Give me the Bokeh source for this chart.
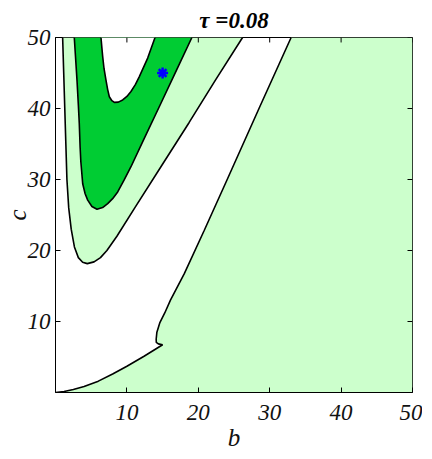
from bokeh.plotting import figure
from bokeh.models import FixedTicker, Range1d
from bokeh.embed import file_html
from bokeh.resources import INLINE

# ---- data ----
# outer light-green U boundary (left arm top -> bottom -> right arm top)
outer_b = [1.0, 1.15, 1.3, 1.45, 1.6, 1.85, 2.2, 2.65, 3.2, 3.8, 4.45, 5.4, 6.3, 7.2, 8.6, 11.1, 14.9, 18.7, 22.4, 26.2]
outer_c = [50, 45, 40, 35, 30, 26, 23, 20.5, 19.0, 18.35, 18.15, 18.4, 19.0, 20.0, 22.0, 26.0, 32.0, 38.0, 44.0, 50]

# dark-green U boundary
dark_b = [2.63, 2.82, 3.01, 3.2, 3.33, 3.45, 3.55, 3.81, 4.15, 4.51, 5.1, 5.81, 6.6, 7.31, 8.0, 8.71, 9.6, 10.57, 12.3, 14.75, 16.95, 19.1]
dark_c = [50, 47, 44, 40.5, 37.9, 34.5, 32.5, 29.4, 28.0, 27.1, 26.2, 25.8, 26.05, 26.6, 27.3, 28.25, 29.9, 31.8, 35.5, 40.7, 45.4, 50]

# inner white U boundary
inner_b = [6.37, 6.5, 6.61, 6.8, 7.07, 7.3, 7.54, 7.9, 8.24, 8.8, 9.41, 10.0, 10.57, 11.2, 11.74, 12.91, 13.94]
inner_c = [50, 48.5, 47.3, 45.6, 44.0, 42.7, 41.65, 41.1, 40.86, 40.9, 41.2, 41.7, 42.4, 43.4, 44.5, 47.1, 50]

# right light-green region boundary (top -> kink -> tip -> origin)
right_b = [33.0, 28.5, 24.0, 20.84, 18.04, 16.1, 15.3, 14.6, 14.2, 14.1, 14.12, 14.4, 15.0,
           12.4, 10.0, 8.0, 6.0, 4.0, 2.5, 1.2, 0.0]
right_c = [50, 40, 29.9, 22.85, 16.74, 13.0, 11.2, 9.8, 8.5, 7.5, 7.05, 6.85, 6.72,
           5.1, 3.7, 2.6, 1.6, 0.85, 0.42, 0.13, 0.0]

# marked point
star_b = [15.0]
star_c = [45.0]

x_ticks = [10, 20, 30, 40, 50]
y_ticks = [10, 20, 30, 40, 50]
b_min, b_max = 0, 50
c_min, c_max = 0, 50

LIGHT = "#CCFFCC"
DARK = "#00CC33"
FONT = "Liberation Serif"
TICK_LEN = 0.7  # mirrored tick length, in data units

p = figure(frame_width=357, frame_height=355,
           x_range=Range1d(b_min, b_max), y_range=Range1d(c_min, c_max),
           output_backend="svg", toolbar_location=None,
           min_border_left=46, min_border_right=10, min_border_top=30, min_border_bottom=10,
           title="τ =0.08")
p.xgrid.visible = False
p.ygrid.visible = False
p.background_fill_color = "white"
p.border_fill_color = "white"
p.outline_line_color = "black"
p.outline_line_width = 1

p.title.align = "center"
p.title.text_font = FONT
p.title.text_font_style = "bold italic"
p.title.text_font_size = "23px"
p.title.text_color = "black"
p.title.standoff = 10

# right region polygon
rb = right_b + [b_max, b_max]
rc = right_c + [c_min, c_max]
p.patch(rb, rc, fill_color=LIGHT, line_color=None)
p.patch(outer_b, outer_c, fill_color=LIGHT, line_color=None)
p.patch(dark_b, dark_c, fill_color=DARK, line_color=None)
p.patch(inner_b, inner_c, fill_color="white", line_color=None)

for bb, cc in [(outer_b, outer_c), (dark_b, dark_c), (inner_b, inner_c), (right_b, right_c)]:
    p.line(bb, cc, line_color="black", line_width=1.6)

# mirrored ticks on the top and right edges
p.segment(x0=x_ticks, y0=[c_max] * len(x_ticks), x1=x_ticks, y1=[c_max - TICK_LEN] * len(x_ticks),
          line_color="black", line_width=1)
p.segment(x0=[b_max] * len(y_ticks), y0=y_ticks, x1=[b_max - TICK_LEN] * len(y_ticks), y1=y_ticks,
          line_color="black", line_width=1)

p.scatter(star_b, star_c, marker="asterisk", size=11, line_color="#0000FF", line_width=2.5)
p.scatter(star_b, star_c, marker="circle", size=5, fill_color="#0000FF", line_color=None)

def style_axis(ax, label):
    ax.axis_line_color = "black"
    ax.major_tick_in = 5
    ax.major_tick_out = 0
    ax.minor_tick_line_color = None
    ax.major_tick_line_color = "black"
    ax.major_label_text_font = FONT
    ax.major_label_text_font_style = "italic"
    ax.major_label_text_font_size = "23px"
    ax.major_label_text_color = "#111111"
    ax.axis_label = label
    ax.axis_label_text_font = FONT
    ax.axis_label_text_font_style = "italic"
    ax.axis_label_text_font_size = "25px"
    ax.axis_label_text_color = "#111111"

style_axis(p.xaxis[0], "b")
p.xaxis[0].ticker = FixedTicker(ticks=x_ticks)
p.xaxis[0].major_label_standoff = 12
p.xaxis[0].axis_label_standoff = 1
style_axis(p.yaxis[0], "c")
p.yaxis[0].ticker = FixedTicker(ticks=y_ticks)
p.yaxis[0].major_label_standoff = 5
p.yaxis[0].axis_label_standoff = -6

open("out.html", "w").write(file_html(p, INLINE))
